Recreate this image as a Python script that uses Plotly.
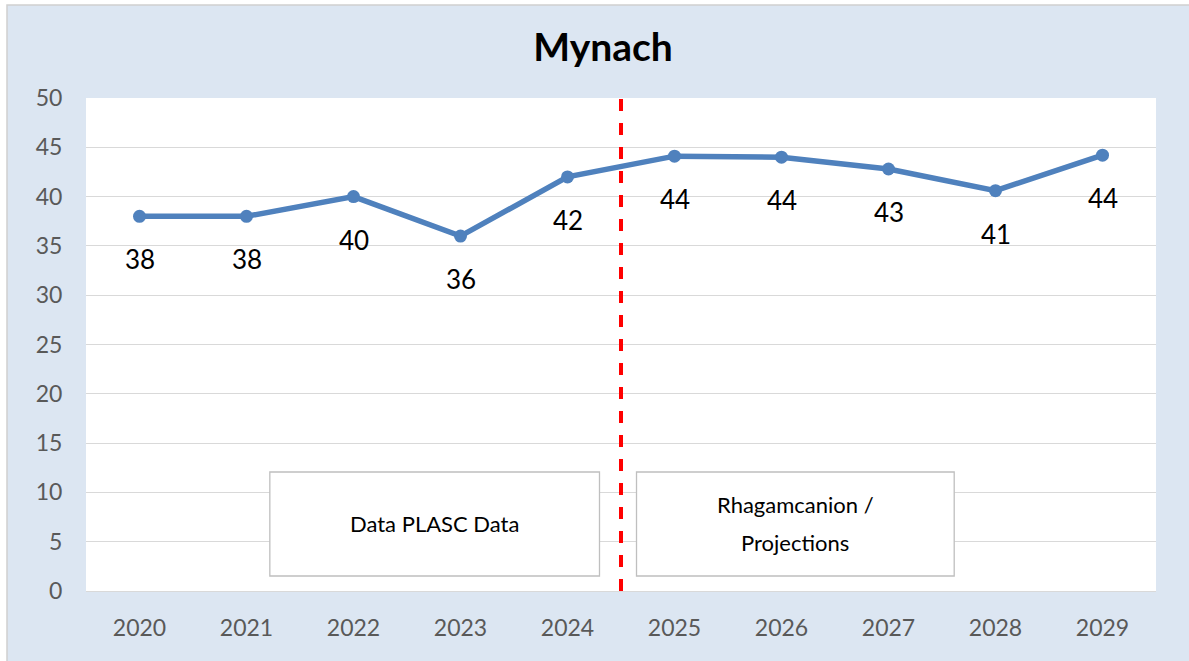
import plotly.graph_objects as go

years = ["2020", "2021", "2022", "2023", "2024", "2025", "2026", "2027", "2028", "2029"]
values = [38, 38, 40, 36, 42, 44.1, 44, 42.8, 40.6, 44.2]
y_ticks = [0, 5, 10, 15, 20, 25, 30, 35, 40, 45, 50]
title_text = "Mynach"
box_left_text = "Data PLASC Data"
box_right_lines = ["Rhagamcanion /", "Projections"]

FONT = "Lato, 'Open Sans', sans-serif"

fig = go.Figure()
fig.add_trace(go.Scatter(
    x=list(range(len(years))), y=values,
    mode="lines+markers",
    line=dict(color="#4F81BD", width=5.5),
    marker=dict(color="#4F81BD", size=13),
    hoverinfo="skip",
))

L, R, T, B = 86, 33, 98, 70
W, H = 1189, 661
pw, ph = W - L - R, H - T - B

def px_x(p):
    return (p - L) / pw

def px_y(p):
    return (H - B - p) / ph

shapes = [
    dict(type="rect", xref="paper", yref="paper", layer="below",
         x0=px_x(7), x1=px_x(1200), y0=px_y(680), y1=px_y(5),
         fillcolor="#DCE6F2", line=dict(color="#D0D0D0", width=1.5)),
    dict(type="rect", xref="paper", yref="paper", layer="below",
         x0=0, x1=1, y0=0, y1=1, fillcolor="#FFFFFF", line=dict(width=0)),
    dict(type="rect", xref="x", yref="y", layer="above",
         x0=1.218, x1=4.299, y0=1.52, y1=12.07,
         fillcolor="#FFFFFF", line=dict(color="#BFBFBF", width=1.3)),
    dict(type="rect", xref="x", yref="y", layer="above",
         x0=4.645, x1=7.614, y0=1.52, y1=12.07,
         fillcolor="#FFFFFF", line=dict(color="#BFBFBF", width=1.3)),
    dict(type="line", xref="x", yref="paper", layer="above",
         x0=4.5, x1=4.5, y0=0, y1=px_y(95),
         line=dict(color="#FF0000", width=4, dash="dash")),
]

annotations = [
    dict(x=(1.218 + 4.299) / 2, y=6.8, xref="x", yref="y", text=box_left_text,
         showarrow=False, font=dict(family=FONT, size=22, color="#000000")),
    dict(x=(4.645 + 7.614) / 2, y=6.8, xref="x", yref="y", text=box_right_lines[0],
         showarrow=False, yshift=19, font=dict(family=FONT, size=22, color="#000000")),
    dict(x=(4.645 + 7.614) / 2, y=6.8, xref="x", yref="y", text=box_right_lines[1],
         showarrow=False, yshift=-19, font=dict(family=FONT, size=22, color="#000000")),
]
for i, v in enumerate(values):
    annotations.append(dict(x=i, y=v, xref="x", yref="y", text=f"{v:.0f}",
                            showarrow=False, yshift=-43,
                            font=dict(family=FONT, size=26, color="#000000")))

fig.update_layout(
    width=W, height=H,
    margin=dict(l=L, r=R, t=T, b=B),
    paper_bgcolor="#FFFFFF",
    plot_bgcolor="rgba(0,0,0,0)",
    showlegend=False,
    title=dict(text=f"<b>{title_text}</b>", x=px_x(603), xref="paper", xanchor="center",
               y=1 - 47 / H, yanchor="middle",
               font=dict(family=FONT, size=39, color="#000000")),
    shapes=shapes,
    annotations=annotations,
    xaxis=dict(tickmode="array", tickvals=list(range(len(years))), ticktext=years,
               range=[-0.5, len(years) - 0.5], showgrid=False, zeroline=False,
               showline=False, ticks="outside", ticklen=16, tickcolor="rgba(0,0,0,0)",
               tickfont=dict(family=FONT, size=23, color="#595959")),
    yaxis=dict(range=[0, 50], tickvals=y_ticks, showgrid=True, gridcolor="#D9D9D9",
               gridwidth=1.3, zeroline=True, zerolinecolor="#D9D9D9", zerolinewidth=1.3,
               showline=False, ticks="outside", ticklen=18, tickcolor="rgba(0,0,0,0)",
               tickfont=dict(family=FONT, size=23, color="#595959")),
)

fig.write_html("out.html", post_script="document.body.style.margin='0px';",
               config={"displayModeBar": False})
